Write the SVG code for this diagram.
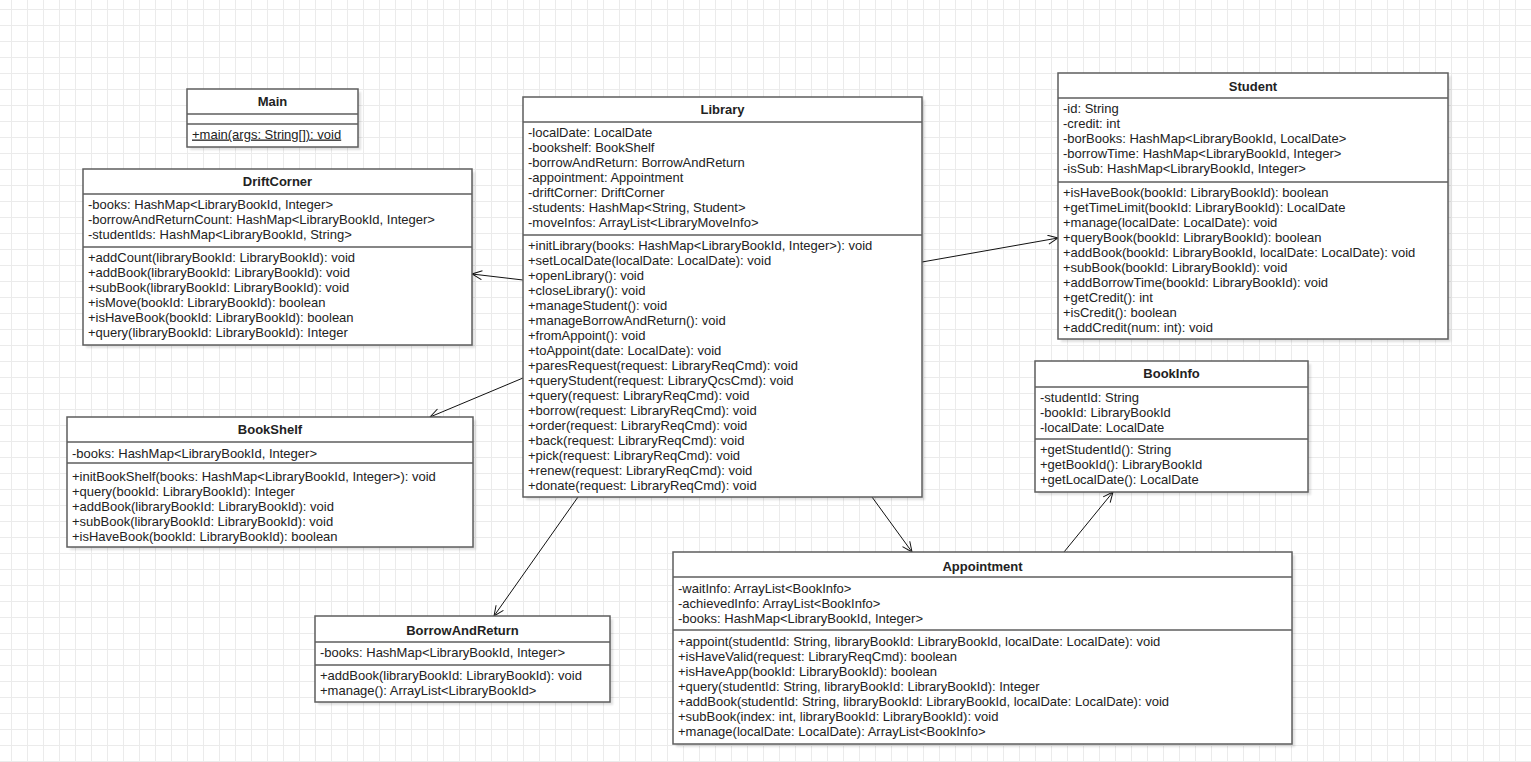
<svg xmlns="http://www.w3.org/2000/svg" width="1531" height="762" viewBox="0 0 1531 762">
<defs>
<pattern id="grid" x="11" y="9" width="16" height="16" patternUnits="userSpaceOnUse"><path d="M0.5 0V16M0 0.5H16" stroke="#ebebeb" stroke-width="1" fill="none"/></pattern>
<filter id="blur" x="-5%" y="-5%" width="110%" height="110%"><feGaussianBlur stdDeviation="1.2"/></filter>
<marker id="arr" markerWidth="14" markerHeight="12" refX="11" refY="5" orient="auto" markerUnits="userSpaceOnUse"><path d="M1 0.5 L11 5 L1 9.5" fill="none" stroke="#111" stroke-width="1"/></marker>
<style>
.box{fill:#fff;stroke:#5e5e5e;stroke-width:1.5}
.sh{fill:#000;opacity:0.12;filter:url(#blur)}
.sep{stroke:#5e5e5e;stroke-width:1.5}
.t{font-family:"Liberation Sans",Arial,Helvetica,sans-serif;font-size:13px;fill:#222}
.h{font-weight:bold;text-anchor:middle}
.edge{stroke:#111;stroke-width:1;fill:none;marker-end:url(#arr)}
</style>
</defs>
<rect x="0" y="0" width="1531" height="762" fill="#fff"/>
<rect x="0" y="0" width="1531" height="762" fill="url(#grid)"/>

<g id="connectors">
<path class="edge" d="M523 280 L472 274"/>
<path class="edge" d="M922 262 L1058 238"/>
<path class="edge" d="M523 378 L430 417"/>
<path class="edge" d="M578 497 L494 616"/>
<path class="edge" d="M872 497 L912 552"/>
<path class="edge" d="M1064 552 L1113 492"/>
</g>

<g id="Main">
<rect class="sh" x="190" y="92" width="171" height="58"/>
<rect class="box" x="187" y="89" width="171" height="58"/>
<line class="sep" x1="187" y1="114" x2="358" y2="114"/>
<line class="sep" x1="187" y1="124" x2="358" y2="124"/>
<text class="t h" x="272.5" y="105.5">Main</text>
<text class="t" x="192" y="138.5" text-decoration="underline">+main(args: String[]): void</text>
</g>

<g id="DriftCorner">
<rect class="sh" x="86" y="172" width="389" height="176"/>
<rect class="box" x="83" y="169" width="389" height="176"/>
<line class="sep" x1="83" y1="194" x2="472" y2="194"/>
<line class="sep" x1="83" y1="247" x2="472" y2="247"/>
<text class="t h" x="277.5" y="185.5">DriftCorner</text>
<text class="t" x="88" y="208.5"><tspan x="88">-books: HashMap&lt;LibraryBookId, Integer&gt;</tspan><tspan x="88" dy="15">-borrowAndReturnCount: HashMap&lt;LibraryBookId, Integer&gt;</tspan><tspan x="88" dy="15">-studentIds: HashMap&lt;LibraryBookId, String&gt;</tspan></text>
<text class="t" x="88" y="261.5"><tspan x="88">+addCount(libraryBookId: LibraryBookId): void</tspan><tspan x="88" dy="15">+addBook(libraryBookId: LibraryBookId): void</tspan><tspan x="88" dy="15">+subBook(libraryBookId: LibraryBookId): void</tspan><tspan x="88" dy="15">+isMove(bookId: LibraryBookId): boolean</tspan><tspan x="88" dy="15">+isHaveBook(bookId: LibraryBookId): boolean</tspan><tspan x="88" dy="15">+query(libraryBookId: LibraryBookId): Integer</tspan></text>
</g>

<g id="Library">
<rect class="sh" x="526" y="100" width="399" height="400"/>
<rect class="box" x="523" y="97" width="399" height="400"/>
<line class="sep" x1="523" y1="122" x2="922" y2="122"/>
<line class="sep" x1="523" y1="235" x2="922" y2="235"/>
<text class="t h" x="722.5" y="113.5">Library</text>
<text class="t" x="528" y="136.5"><tspan x="528">-localDate: LocalDate</tspan><tspan x="528" dy="15">-bookshelf: BookShelf</tspan><tspan x="528" dy="15">-borrowAndReturn: BorrowAndReturn</tspan><tspan x="528" dy="15">-appointment: Appointment</tspan><tspan x="528" dy="15">-driftCorner: DriftCorner</tspan><tspan x="528" dy="15">-students: HashMap&lt;String, Student&gt;</tspan><tspan x="528" dy="15">-moveInfos: ArrayList&lt;LibraryMoveInfo&gt;</tspan></text>
<text class="t" x="528" y="249.5"><tspan x="528">+initLibrary(books: HashMap&lt;LibraryBookId, Integer&gt;): void</tspan><tspan x="528" dy="15">+setLocalDate(localDate: LocalDate): void</tspan><tspan x="528" dy="15">+openLibrary(): void</tspan><tspan x="528" dy="15">+closeLibrary(): void</tspan><tspan x="528" dy="15">+manageStudent(): void</tspan><tspan x="528" dy="15">+manageBorrowAndReturn(): void</tspan><tspan x="528" dy="15">+fromAppoint(): void</tspan><tspan x="528" dy="15">+toAppoint(date: LocalDate): void</tspan><tspan x="528" dy="15">+paresRequest(request: LibraryReqCmd): void</tspan><tspan x="528" dy="15">+queryStudent(request: LibraryQcsCmd): void</tspan><tspan x="528" dy="15">+query(request: LibraryReqCmd): void</tspan><tspan x="528" dy="15">+borrow(request: LibraryReqCmd): void</tspan><tspan x="528" dy="15">+order(request: LibraryReqCmd): void</tspan><tspan x="528" dy="15">+back(request: LibraryReqCmd): void</tspan><tspan x="528" dy="15">+pick(request: LibraryReqCmd): void</tspan><tspan x="528" dy="15">+renew(request: LibraryReqCmd): void</tspan><tspan x="528" dy="15">+donate(request: LibraryReqCmd): void</tspan></text>
</g>

<g id="Student">
<rect class="sh" x="1061" y="76" width="390" height="266"/>
<rect class="box" x="1058" y="73" width="390" height="266"/>
<line class="sep" x1="1058" y1="98" x2="1448" y2="98"/>
<line class="sep" x1="1058" y1="182" x2="1448" y2="182"/>
<text class="t h" x="1253" y="90.5">Student</text>
<text class="t" x="1063" y="112.5"><tspan x="1063">-id: String</tspan><tspan x="1063" dy="15">-credit: int</tspan><tspan x="1063" dy="15">-borBooks: HashMap&lt;LibraryBookId, LocalDate&gt;</tspan><tspan x="1063" dy="15">-borrowTime: HashMap&lt;LibraryBookId, Integer&gt;</tspan><tspan x="1063" dy="15">-isSub: HashMap&lt;LibraryBookId, Integer&gt;</tspan></text>
<text class="t" x="1063" y="196.5"><tspan x="1063">+isHaveBook(bookId: LibraryBookId): boolean</tspan><tspan x="1063" dy="15">+getTimeLimit(bookId: LibraryBookId): LocalDate</tspan><tspan x="1063" dy="15">+manage(localDate: LocalDate): void</tspan><tspan x="1063" dy="15">+queryBook(bookId: LibraryBookId): boolean</tspan><tspan x="1063" dy="15">+addBook(bookId: LibraryBookId, localDate: LocalDate): void</tspan><tspan x="1063" dy="15">+subBook(bookId: LibraryBookId): void</tspan><tspan x="1063" dy="15">+addBorrowTime(bookId: LibraryBookId): void</tspan><tspan x="1063" dy="15">+getCredit(): int</tspan><tspan x="1063" dy="15">+isCredit(): boolean</tspan><tspan x="1063" dy="15">+addCredit(num: int): void</tspan></text>
</g>

<g id="BookInfo">
<rect class="sh" x="1038" y="364" width="273" height="131"/>
<rect class="box" x="1035" y="361" width="273" height="131"/>
<line class="sep" x1="1035" y1="387" x2="1308" y2="387"/>
<line class="sep" x1="1035" y1="439" x2="1308" y2="439"/>
<text class="t h" x="1171.5" y="377.5">BookInfo</text>
<text class="t" x="1040" y="401.5"><tspan x="1040">-studentId: String</tspan><tspan x="1040" dy="15">-bookId: LibraryBookId</tspan><tspan x="1040" dy="15">-localDate: LocalDate</tspan></text>
<text class="t" x="1040" y="453.5"><tspan x="1040">+getStudentId(): String</tspan><tspan x="1040" dy="15">+getBookId(): LibraryBookId</tspan><tspan x="1040" dy="15">+getLocalDate(): LocalDate</tspan></text>
</g>

<g id="BookShelf">
<rect class="sh" x="70" y="420" width="406" height="130"/>
<rect class="box" x="67" y="417" width="406" height="130"/>
<line class="sep" x1="67" y1="442" x2="473" y2="442"/>
<line class="sep" x1="67" y1="463" x2="473" y2="463"/>
<text class="t h" x="270" y="433.5">BookShelf</text>
<text class="t" x="72" y="457.5">-books: HashMap&lt;LibraryBookId, Integer&gt;</text>
<text class="t" x="72" y="480.5"><tspan x="72">+initBookShelf(books: HashMap&lt;LibraryBookId, Integer&gt;): void</tspan><tspan x="72" dy="15">+query(bookId: LibraryBookId): Integer</tspan><tspan x="72" dy="15">+addBook(libraryBookId: LibraryBookId): void</tspan><tspan x="72" dy="15">+subBook(libraryBookId: LibraryBookId): void</tspan><tspan x="72" dy="15">+isHaveBook(bookId: LibraryBookId): boolean</tspan></text>
</g>

<g id="BorrowAndReturn">
<rect class="sh" x="318" y="619" width="295" height="86"/>
<rect class="box" x="315" y="616" width="295" height="86"/>
<line class="sep" x1="315" y1="642" x2="610" y2="642"/>
<line class="sep" x1="315" y1="665" x2="610" y2="665"/>
<text class="t h" x="462.5" y="634.5">BorrowAndReturn</text>
<text class="t" x="320" y="656.5">-books: HashMap&lt;LibraryBookId, Integer&gt;</text>
<text class="t" x="320" y="679.5"><tspan x="320">+addBook(libraryBookId: LibraryBookId): void</tspan><tspan x="320" dy="15">+manage(): ArrayList&lt;LibraryBookId&gt;</tspan></text>
</g>

<g id="Appointment">
<rect class="sh" x="676" y="555" width="619" height="192"/>
<rect class="box" x="673" y="552" width="619" height="192"/>
<line class="sep" x1="673" y1="577" x2="1292" y2="577"/>
<line class="sep" x1="673" y1="630" x2="1292" y2="630"/>
<text class="t h" x="982.5" y="570.5">Appointment</text>
<text class="t" x="678" y="592.5"><tspan x="678">-waitInfo: ArrayList&lt;BookInfo&gt;</tspan><tspan x="678" dy="15">-achievedInfo: ArrayList&lt;BookInfo&gt;</tspan><tspan x="678" dy="15">-books: HashMap&lt;LibraryBookId, Integer&gt;</tspan></text>
<text class="t" x="678" y="645.5"><tspan x="678">+appoint(studentId: String, libraryBookId: LibraryBookId, localDate: LocalDate): void</tspan><tspan x="678" dy="15">+isHaveValid(request: LibraryReqCmd): boolean</tspan><tspan x="678" dy="15">+isHaveApp(bookId: LibraryBookId): boolean</tspan><tspan x="678" dy="15">+query(studentId: String, libraryBookId: LibraryBookId): Integer</tspan><tspan x="678" dy="15">+addBook(studentId: String, libraryBookId: LibraryBookId, localDate: LocalDate): void</tspan><tspan x="678" dy="15">+subBook(index: int, libraryBookId: LibraryBookId): void</tspan><tspan x="678" dy="15">+manage(localDate: LocalDate): ArrayList&lt;BookInfo&gt;</tspan></text>
</g>
</svg>
